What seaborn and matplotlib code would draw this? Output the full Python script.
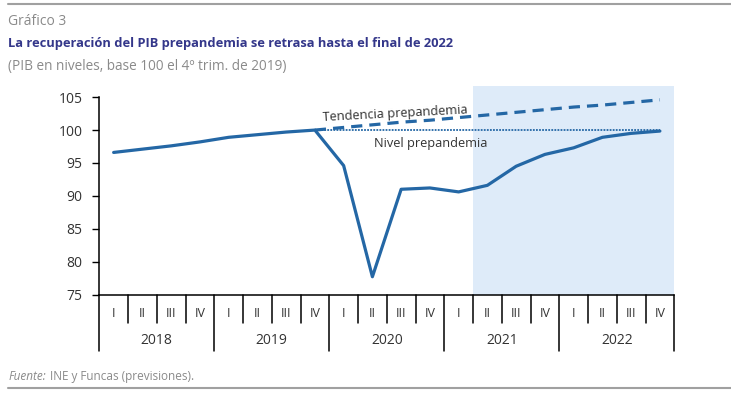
import numpy as np
import pandas as pd
import matplotlib
matplotlib.use('Agg')
import matplotlib.pyplot as plt
import seaborn as sns
from matplotlib import font_manager

# Datos (PIB en niveles, base 100 = 4T 2019)
years = ['2018', '2019', '2020', '2021', '2022']
quarters = ['I', 'II', 'III', 'IV']
pib = [96.6, 97.1, 97.6, 98.2, 98.9, 99.3, 99.7, 100.0,
       94.6, 77.7, 91.0, 91.2, 90.6, 91.6, 94.5, 96.3,
       97.3, 98.9, 99.5, 99.85]
# tendencia prepandemia desde 2019 IV hasta 2022 IV
trend = [100.0, 100.4, 100.8, 101.2, 101.5, 101.9, 102.3,
         102.7, 103.1, 103.5, 103.8, 104.2, 104.6]
level = [100.0] * 13
trend_start = 7
forecast_start = 12.5  # inicio zona sombreada (previsiones)

sns.set_style('white')
names = {f.name for f in font_manager.fontManager.ttflist}
body_font = 'Open Sans' if 'Open Sans' in names else 'DejaVu Sans'
plt.rcParams['font.family'] = [body_font, 'DejaVu Sans']

idx = np.arange(len(pib))
df = pd.DataFrame({'t': idx, 'pib': pib})
tdf = pd.DataFrame({'t': idx[trend_start:], 'trend': trend, 'level': level})

line_col = '#2467A5'
txt_col = '#333333'

fig = plt.figure(figsize=(7.31, 3.96), dpi=100)
ax = fig.add_axes([0.1358, 0.2563, 0.9224 - 0.1358, 0.7828 - 0.2563])

ax.axvspan(forecast_start, len(pib) - 0.5, color='#DEEBF9', lw=0, zorder=0)
sns.lineplot(data=tdf, x='t', y='level', ax=ax, color=line_col, lw=1.3,
             linestyle=(0, (1, 0.7)), zorder=2)
sns.lineplot(data=tdf, x='t', y='trend', ax=ax, color=line_col, lw=2.3,
             linestyle=(0, (3.5, 2.2)), zorder=2)
sns.lineplot(data=df, x='t', y='pib', ax=ax, color=line_col, lw=2.3, zorder=3)

ax.set_xlim(-0.5, len(pib) - 0.5)
ax.set_ylim(75, 106.7)
ax.set_yticks(range(75, 106, 5))
ax.tick_params(axis='y', length=5, width=1, pad=7, labelsize=10, labelcolor=txt_col,
               left=True, color='black')
ax.set_xticks([])
ax.set_xlabel('')
ax.set_ylabel('')
for s in ['top', 'right']:
    ax.spines[s].set_visible(False)
ax.spines['left'].set_bounds(75, 105)
for s in ['left', 'bottom']:
    ax.spines[s].set_color('black')
    ax.spines[s].set_linewidth(1.1)

# tabla de trimestres/años bajo el eje
tr = ax.get_xaxis_transform()
q_bottom, y_bottom = -0.135, -0.27
for i in range(len(pib) + 1):
    x = i - 0.5
    yb = y_bottom if i % 4 == 0 else q_bottom
    ax.plot([x, x], [0, yb], transform=tr, color='black', lw=1.1, clip_on=False)
for i in idx:
    ax.text(i, -0.09, quarters[i % 4], transform=tr, ha='center', va='center',
            fontsize=9, color=txt_col)
for k, yr in enumerate(years):
    ax.text(4 * k + 1.5, -0.222, yr, transform=tr, ha='center', va='center',
            fontsize=10, color=txt_col)

ax.text(7.25, 101.0, 'Tendencia prepandemia', fontsize=9.2, color=txt_col,
        rotation=3, ha='left', va='bottom')
ax.text(9.05, 98.0, 'Nivel prepandemia', fontsize=9.2, color=txt_col,
        ha='left', va='center')

# títulos
fig.text(0.011, 0.945, 'Gráfico 3', fontsize=10, color='#8a8a8a', va='center')
fig.text(0.011, 0.89, 'La recuperación del PIB prepandemia se retrasa hasta el final de 2022',
         fontsize=9.3, fontweight='bold', color='#34378A', va='center')
fig.text(0.011, 0.833, '(PIB en niveles, base 100 el 4º trim. de 2019)', fontsize=9.8,
         color='#8a8a8a', va='center')
fig.text(0.011, 0.05, 'Fuente:', fontsize=8.5, color='#8a8a8a', style='italic', va='center')
fig.text(0.068, 0.05, 'INE y Funcas (previsiones).', fontsize=8.5, color='#8a8a8a', va='center')

# líneas grises de marco
fig.add_artist(plt.Line2D([0.011, 1], [0.99, 0.99], color='#a0a0a0', lw=1.5))
fig.add_artist(plt.Line2D([0.011, 1], [0.02, 0.02], color='#a0a0a0', lw=1.5))

fig.savefig('out.png', dpi=100)
